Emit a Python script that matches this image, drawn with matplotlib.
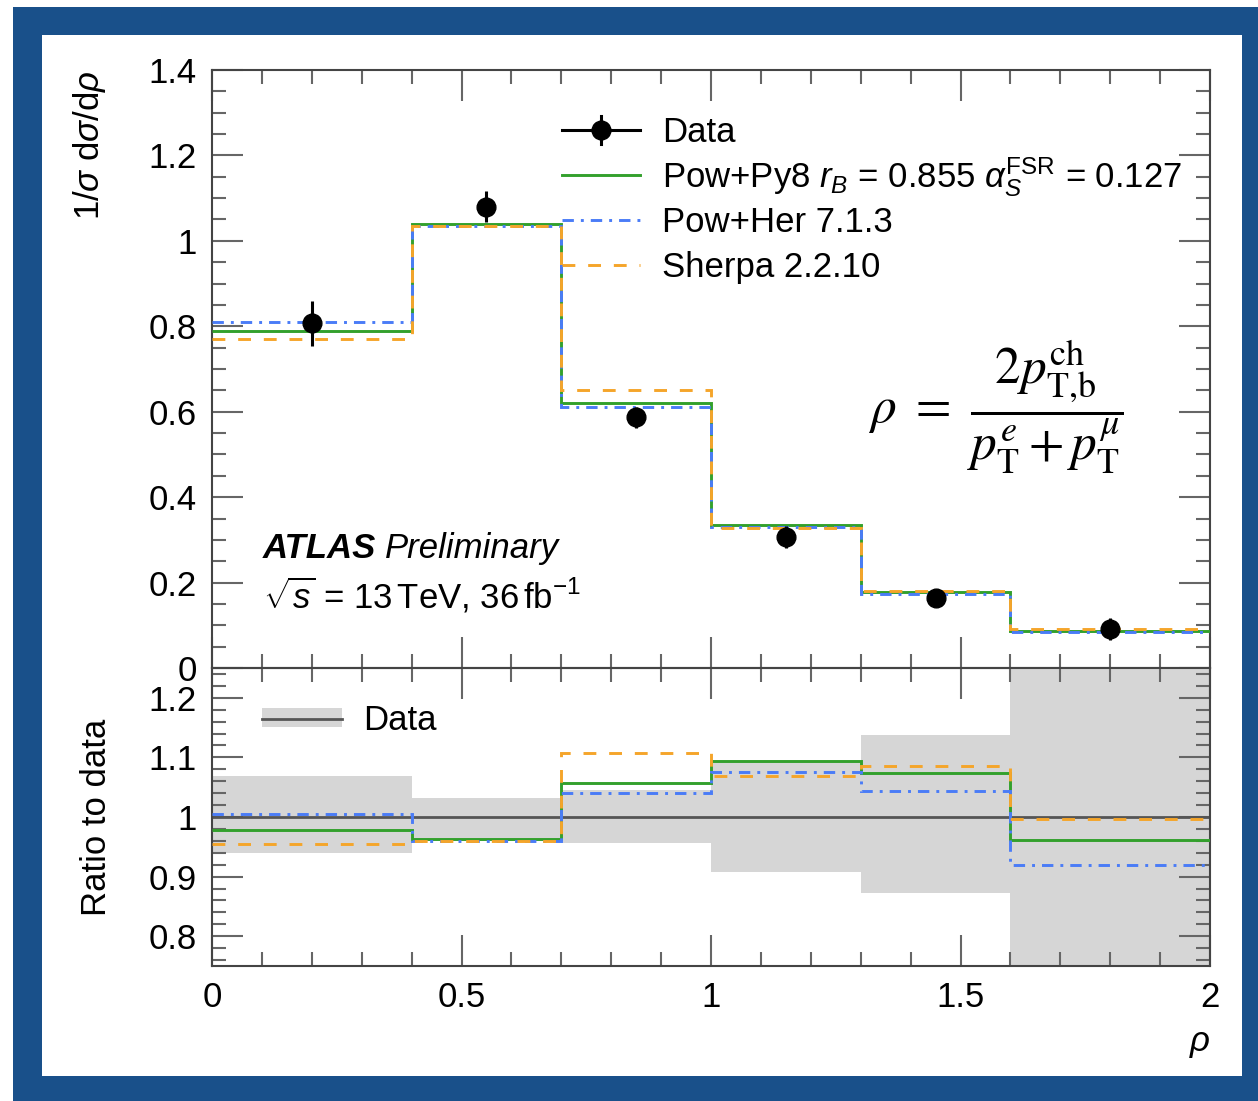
import numpy as np
import matplotlib
matplotlib.use('Agg')
from matplotlib import pyplot as plt
from matplotlib.patches import Rectangle, Patch
from matplotlib.lines import Line2D
from matplotlib.ticker import MultipleLocator, FuncFormatter

plt.rcParams['font.family'] = ['Liberation Sans', 'DejaVu Sans']
plt.rcParams['mathtext.fontset'] = 'custom'
plt.rcParams['mathtext.rm'] = 'Liberation Sans'
plt.rcParams['mathtext.it'] = 'Liberation Sans:italic'
plt.rcParams['mathtext.bf'] = 'Liberation Sans:bold'

# binning and unfolded data
bin_edges = [0.0, 0.4, 0.7, 1.0, 1.3, 1.6, 2.0]
data_x = [0.2, 0.55, 0.85, 1.15, 1.45, 1.8]
data_y = [0.807, 1.080, 0.587, 0.307, 0.165, 0.091]
data_err = [0.052, 0.036, 0.025, 0.025, 0.018, 0.025]

# MC / data ratios
ratio_py8 = [0.979, 0.963, 1.057, 1.094, 1.073, 0.962]
ratio_her = [1.005, 0.959, 1.040, 1.075, 1.044, 0.920]
ratio_sherpa = [0.955, 0.959, 1.107, 1.068, 1.086, 0.997]

# total uncertainty band on data (ratio panel)
band_lo = [0.939, 0.959, 0.957, 0.907, 0.873, 0.70]
band_hi = [1.068, 1.032, 1.045, 1.093, 1.137, 1.30]

labels = ['Data',
          r'Pow+Py8 $r_B$ = 0.855 $\alpha_S^{\mathrm{FSR}}$ = 0.127',
          'Pow+Her 7.1.3',
          'Sherpa 2.2.10']

C_PY8 = '#33a02c'
C_HER = '#4a7cf7'
C_SHE = '#f5a52a'
C_BAND = '#d6d6d6'
LS_HER = (0, (3.9, 2.4, 1.0, 2.4))
LS_SHE = (0, (4.4, 4.4))
LW = 2.1
FS = 25

W, H = 1258, 1101
fig = plt.figure(figsize=(W / 100, H / 100), dpi=100)
fig.patch.set_facecolor('white')

# blue frame around the plot
fig.patches.append(Rectangle((13 / W, 0), 1245 / W, 1094 / H, transform=fig.transFigure,
                             facecolor='#19508a', edgecolor='none', zorder=-10))
fig.patches.append(Rectangle((42 / W, 1 - 1076 / H), 1200 / W, 1041 / H, transform=fig.transFigure,
                             facecolor='white', edgecolor='none', zorder=-9))

x0, x1 = 212 / W, 1210 / W
ax = fig.add_axes([x0, 1 - 668 / H, x1 - x0, 598 / H])
axr = fig.add_axes([x0, 1 - 966 / H, x1 - x0, 298 / H], sharex=ax)
for a in (ax, axr):
    a.set_facecolor('none')


def fmt(v, pos):
    return '%g' % round(v, 3)


def style_axis(a, ymaj, ymin):
    a.xaxis.set_major_locator(MultipleLocator(0.5))
    a.xaxis.set_minor_locator(MultipleLocator(0.1))
    a.yaxis.set_major_locator(MultipleLocator(ymaj))
    a.yaxis.set_minor_locator(MultipleLocator(ymin))
    a.yaxis.set_major_formatter(FuncFormatter(fmt))
    a.xaxis.set_major_formatter(FuncFormatter(fmt))
    a.tick_params(which='both', direction='in', top=True, right=True,
                  color='#666666', width=1.5, labelsize=FS, pad=11)
    a.tick_params(which='major', length=22)
    a.tick_params(which='minor', length=10)
    for s in a.spines.values():
        s.set_color('#444444')
        s.set_linewidth(1.5)


# upper panel: normalised distribution
pred_py8 = np.array(data_y) * np.array(ratio_py8)
pred_her = np.array(data_y) * np.array(ratio_her)
pred_she = np.array(data_y) * np.array(ratio_sherpa)

ax.stairs(pred_py8, bin_edges, baseline=None, color=C_PY8, lw=LW, zorder=3)
ax.stairs(pred_her, bin_edges, baseline=None, color=C_HER, lw=LW, linestyle=LS_HER, zorder=4)
ax.stairs(pred_she, bin_edges, baseline=None, color=C_SHE, lw=LW, linestyle=LS_SHE, zorder=5)
ax.errorbar(data_x, data_y, yerr=data_err, fmt='o', color='black', ms=13.5,
            elinewidth=2.2, capsize=0, zorder=6)

ax.set_xlim(0, 2)
ax.set_ylim(0, 1.4)
style_axis(ax, 0.2, 0.05)
ax.tick_params(labelbottom=False)


# legend drawn row by row so the spacing stays even
def legend_row(y_px, text, **line_kw):
    y = 1 - y_px / H
    fig.add_artist(Line2D([562 / W, 640 / W], [y, y], **line_kw))
    fig.text(662 / W, 1 - (y_px + 12) / H, text, fontsize=FS, va='baseline')
    return y


yd = legend_row(130, labels[0], color='black', lw=2.2)
fig.add_artist(Line2D([601 / W], [yd], color='black', marker='o', ms=13.5, lw=0))
fig.add_artist(Line2D([601 / W, 601 / W], [yd - 14 / H, yd + 14 / H], color='black', lw=2.2))
legend_row(175, labels[1], color=C_PY8, lw=LW)
legend_row(220, labels[2], color=C_HER, lw=LW, linestyle=LS_HER)
legend_row(265, labels[3], color=C_SHE, lw=LW, linestyle=LS_SHE)

ax.text(0.0511, 0.184, 'ATLAS', transform=ax.transAxes, fontsize=FS,
        fontweight='bold', fontstyle='italic', va='baseline')
atl = ax.texts[-1]
ax.annotate('Preliminary', xy=(1, 0), xycoords=atl, xytext=(6, 0),
            textcoords='offset points', fontsize=FS, fontstyle='italic', va='bottom')
ax.text(0.0511, 0.099, r'$\sqrt{s}$ = 13$\,$TeV, 36$\,$fb$^{-1}$', transform=ax.transAxes,
        fontsize=FS, va='baseline')

ax.text(0.785, 0.436,
        r'$\rho\ =\ \dfrac{2p_{\mathrm{T}{,}\mathrm{b}}^{\mathrm{ch}}}{p_{\mathrm{T}}^{e}+p_{\mathrm{T}}^{\mu}}$',
        transform=ax.transAxes, fontsize=37, ha='center', va='center',
        math_fontfamily='stix')

# lower panel: ratio to data
axr.stairs(band_hi, bin_edges, baseline=band_lo, fill=True, color=C_BAND, lw=0, zorder=1)
axr.axhline(1.0, color='#555555', lw=2.0, zorder=2)
axr.stairs(ratio_py8, bin_edges, baseline=None, color=C_PY8, lw=LW, zorder=3)
axr.stairs(ratio_her, bin_edges, baseline=None, color=C_HER, lw=LW, linestyle=LS_HER, zorder=4)
axr.stairs(ratio_sherpa, bin_edges, baseline=None, color=C_SHE, lw=LW, linestyle=LS_SHE, zorder=5)
axr.set_ylim(0.75, 1.25)
style_axis(axr, 0.1, 0.02)

band_handle = (Patch(facecolor=C_BAND, edgecolor='none'), Line2D([], [], color='#555555', lw=2.0))
fig.legend([band_handle], ['Data'], loc='upper left', bbox_to_anchor=(262 / W, 1 - 704 / H),
           frameon=False, fontsize=FS, handlelength=2.3, handleheight=0.45,
           handletextpad=0.6, borderpad=0, borderaxespad=0)

fig.text(90 / W, 1 - 70 / H, r'1/$\sigma$ d$\sigma$/d$\rho$', rotation=90,
         ha='center', va='top', fontsize=FS)
fig.text(97 / W, 1 - 817 / H, 'Ratio to data', rotation=90,
         ha='center', va='center', fontsize=FS)
fig.text(1200 / W, 1 - 1043 / H, r'$\rho$', ha='center', va='center', fontsize=FS)

fig.savefig('out.png', dpi=100)
